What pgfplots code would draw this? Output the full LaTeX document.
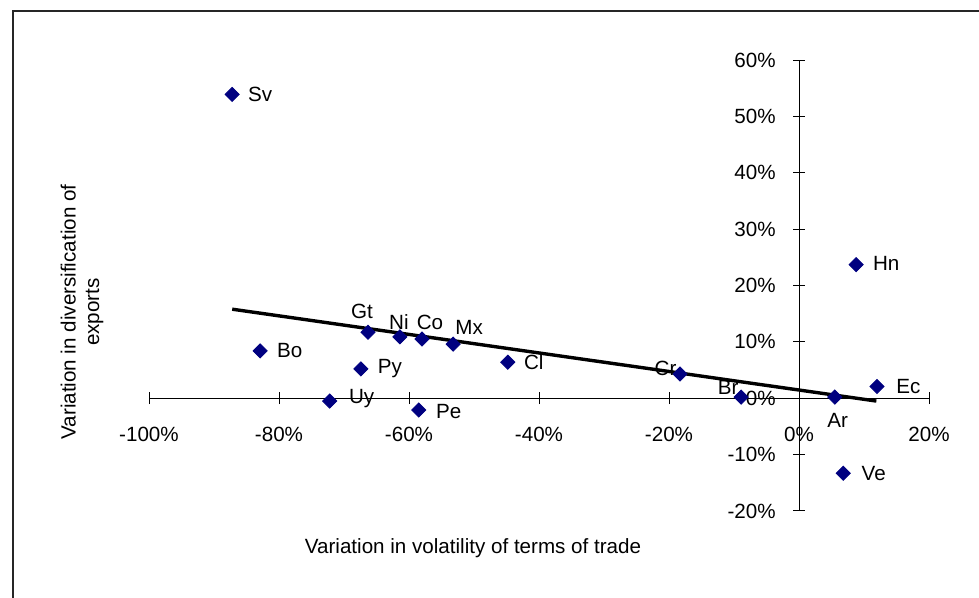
\documentclass[border=0pt]{standalone}
\usepackage{fontspec}
\setmainfont{Liberation Sans}
\usepackage{pgfplots}
\usepackage{pgfplotstable}
\pgfplotsset{compat=1.18}
\definecolor{navy}{RGB}{0,0,128}

\pgfplotstableread{
x y lab dx dy
-87.2 53.9 Sv 14 0
-82.9 8.4 Bo 14.75 0
-66.3 11.7 Gt -3 10.5
-61.4 10.9 Ni -0.5 7.5
-58.0 10.5 Co 4 8.5
-53.2 9.6 Mx 8 8.5
-67.4 5.2 Py 14.5 0
-72.2 -0.5 Uy 16 1.5
-58.5 -2.1 Pe 15 -0.5
-44.8 6.4 Cl 13 0
-18.3 4.3 Cr -7.25 3
-8.9 0.2 Br -6.5 5
5.5 0.2 Ar 1.5 -11.5
12.0 2.1 Ec 15.75 0
8.8 23.7 Hn 15 0.5
6.8 -13.3 Ve 15.25 0
}\pts

\begin{document}
\begin{tikzpicture}[font=\fontsize{10.3}{11.8}\selectfont]
\useasboundingbox (0,0) rectangle (489.5pt,299pt);
\draw[line width=1pt, black!85] (6.3pt,-2pt) -- (6.3pt,293.5pt) -- (492pt,293.5pt);
\begin{axis}[
  at={(74.5pt,43.5pt)}, anchor=south west,
  scale only axis, width=390pt, height=225.5pt,
  xmin=-100, xmax=20, ymin=-20, ymax=60,
  enlargelimits=false,
  axis lines=middle,
  axis line style={-, black, line width=0.5pt},
  xtick={-100,-80,...,20}, ytick={-20,-10,...,60},
  hide obscured x ticks=false, hide obscured y ticks=false,
  tick align=center, major tick length=6pt,
  tick style={black, line width=0.5pt},
  /pgf/number format/assume math mode=true,
  xticklabel={\pgfmathprintnumber{\tick}\%},
  yticklabel={\pgfmathprintnumber{\tick}\%},
  xticklabel style={anchor=center, inner sep=0pt, yshift=-15.25pt},
  yticklabel style={anchor=east, inner sep=0pt, xshift=-8.5pt},
  xlabel={Variation in volatility of terms of trade},
  xlabel style={at={(rel axis cs:0.4154,0)}, anchor=base, yshift=-21.5pt},
  ylabel={Variation in diversification of\\exports},
  ylabel style={at={(rel axis cs:0,0.4412)}, anchor=center, xshift=-33.5pt, rotate=90, align=center},
  clip=false,
]
\addplot[only marks, mark=square*, mark size=2.5pt,
  mark options={fill=navy, draw=navy, rotate=45},
  nodes near coords, point meta=explicit symbolic,
  visualization depends on={\thisrow{dx} \as \dx},
  visualization depends on={\thisrow{dy} \as \dy},
  every node near coord/.append style={anchor=center, inner sep=0pt, xshift=\dx pt, yshift=\dy pt, black}
] table[x=x, y=y, meta=lab] {\pts};
\addplot[black, line width=1.7pt] coordinates {(-87.2,15.8) (11.9,-0.5)};
\end{axis}
\end{tikzpicture}
\end{document}
